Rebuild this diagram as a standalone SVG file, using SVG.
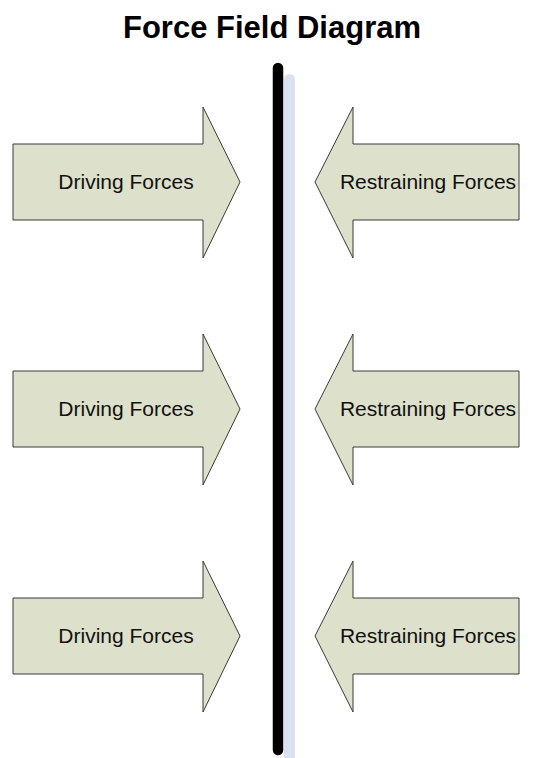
<svg xmlns="http://www.w3.org/2000/svg" width="533" height="758" viewBox="0 0 533 758">
  <style>
    .arrow { fill: #dde0ca; stroke: #3a3a3a; stroke-width: 1; }
    .label { font-family: "Liberation Sans", Arial, sans-serif; font-size: 21px; fill: #111; text-anchor: middle; }
    .title { font-family: "Liberation Sans", Arial, sans-serif; font-size: 31px; font-weight: bold; fill: #000; text-anchor: middle; }
  </style>
  <defs>
    <!-- right-pointing arrow, tip on the row centre line -->
    <path id="drive" d="M13,-38 H203 V-75 L240,0 L203,76 V38 H13 Z"/>
    <!-- left-pointing arrow -->
    <path id="restrain" d="M519,-38 H353 V-75 L315,0 L353,76 V38 H519 Z"/>
  </defs>
  <rect width="533" height="758" fill="#ffffff"/>

  <text class="title" x="272" y="38">Force Field Diagram</text>

  <!-- dividing field line -->
  <g id="field-line">
    <path d="M284,80 Q284,74 289.5,74 Q295,74 295,80 V758 H284 Z" fill="#d8e2f1"/>
    <line x1="278" y1="68" x2="278" y2="750" stroke="#000" stroke-width="10.5" stroke-linecap="round"/>
  </g>

  <g id="driving-1" transform="translate(0,182)">
    <use href="#drive" class="arrow"/>
    <text class="label" x="126" y="6.5">Driving Forces</text>
  </g>
  <g id="driving-2" transform="translate(0,409)">
    <use href="#drive" class="arrow"/>
    <text class="label" x="126" y="6.5">Driving Forces</text>
  </g>
  <g id="driving-3" transform="translate(0,636)">
    <use href="#drive" class="arrow"/>
    <text class="label" x="126" y="6.5">Driving Forces</text>
  </g>

  <g id="restraining-1" transform="translate(0,182)">
    <use href="#restrain" class="arrow"/>
    <text class="label" x="428" y="6.5">Restraining Forces</text>
  </g>
  <g id="restraining-2" transform="translate(0,409)">
    <use href="#restrain" class="arrow"/>
    <text class="label" x="428" y="6.5">Restraining Forces</text>
  </g>
  <g id="restraining-3" transform="translate(0,636)">
    <use href="#restrain" class="arrow"/>
    <text class="label" x="428" y="6.5">Restraining Forces</text>
  </g>
</svg>
